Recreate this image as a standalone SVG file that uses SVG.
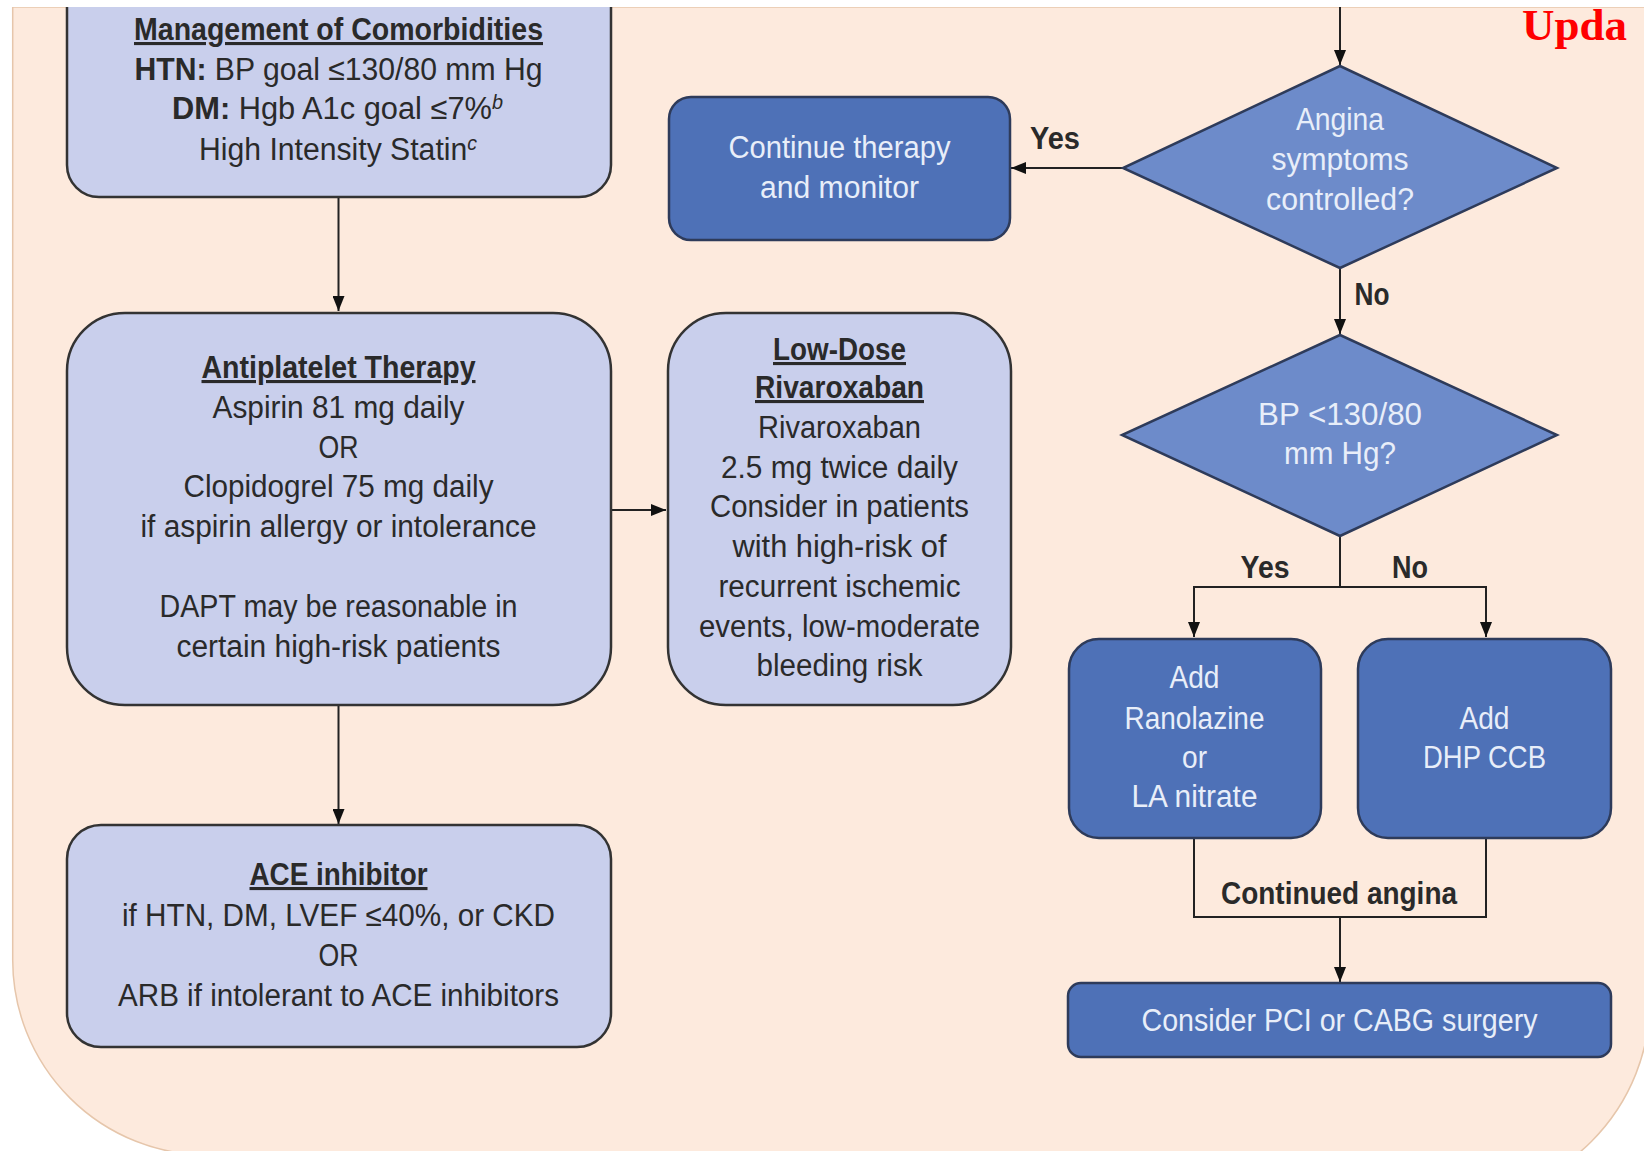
<svg xmlns="http://www.w3.org/2000/svg" width="1644" height="1151" viewBox="0 0 1644 1151">
<style>
.t{font-family:"Liberation Sans",Arial,sans-serif;font-size:31px;fill:#2a2a2a;text-anchor:middle}
.b{font-weight:bold}
.u{text-decoration:underline}
.w{fill:#e8eef9}
.lt{fill:#c9cfec;stroke:#333;stroke-width:2.5}
.dk{fill:#4e71b7;stroke:#2e3b5a;stroke-width:2.5}
.dm{fill:#6d8bca;stroke:#2e3b5a;stroke-width:2.5}
.c{fill:none;stroke:#222;stroke-width:2}
</style>
<defs>
<marker id="ah" markerUnits="userSpaceOnUse" markerWidth="16" markerHeight="12" refX="15" refY="6" orient="auto">
<path d="M0,0 L15,6 L0,12 Z" fill="#111"/>
</marker>
</defs>
<rect width="1644" height="1151" fill="#ffffff"/>
<path id="panel" d="M12.7,7 V960 A195,195 0 0 0 207.7,1155 L1450,1200 A200,200 0 0 0 1650,1000 V7 Z" fill="#fdeadd" stroke="#e6c6ab" stroke-width="1.5"/>

<g id="connectors">
<path class="c" d="M338.5,197 V311" marker-end="url(#ah)"/>
<path class="c" d="M338.5,705 V824" marker-end="url(#ah)"/>
<path class="c" d="M611,510 H666" marker-end="url(#ah)"/>
<path class="c" d="M1340,7 V65" marker-end="url(#ah)"/>
<path class="c" d="M1123,168 H1011" marker-end="url(#ah)"/>
<path class="c" d="M1340,268 V334" marker-end="url(#ah)"/>
<path class="c" d="M1340,536 V587"/>
<path class="c" d="M1340,587 H1194 V637" marker-end="url(#ah)"/>
<path class="c" d="M1340,587 H1486 V637" marker-end="url(#ah)"/>
<path class="c" d="M1194,838 V917 H1486 V838"/>
<path class="c" d="M1340,917 V982" marker-end="url(#ah)"/>
<text class="t b" x="1055" y="149" textLength="50" lengthAdjust="spacingAndGlyphs">Yes</text>
<text class="t b" x="1372" y="305" textLength="35" lengthAdjust="spacingAndGlyphs">No</text>
<text class="t b" x="1265" y="578" textLength="49" lengthAdjust="spacingAndGlyphs">Yes</text>
<text class="t b" x="1410" y="578" textLength="36" lengthAdjust="spacingAndGlyphs">No</text>
<text class="t b" x="1339" y="904" textLength="236" lengthAdjust="spacingAndGlyphs">Continued angina</text>
</g>

<g id="management">
<rect class="lt" x="67" y="-40" width="544" height="237" rx="32"/>
<text class="t b u" x="338.5" y="40" textLength="409" lengthAdjust="spacingAndGlyphs">Management of Comorbidities</text>
<text class="t" x="338.5" y="80" textLength="408" lengthAdjust="spacingAndGlyphs"><tspan class="b">HTN:</tspan> BP goal ≤130/80 mm Hg</text>
<text class="t" x="337.5" y="119" textLength="331" lengthAdjust="spacingAndGlyphs"><tspan class="b">DM:</tspan> Hgb A1c goal ≤7%<tspan dy="-10" font-size="20" font-style="italic">b</tspan></text>
<text class="t" x="338" y="160" textLength="278" lengthAdjust="spacingAndGlyphs">High Intensity Statin<tspan dy="-10" font-size="20" font-style="italic">c</tspan></text>
</g>

<g id="antiplatelet">
<rect class="lt" x="67" y="313" width="544" height="392" rx="58"/>
<text class="t b u" x="338.5" y="378" textLength="274" lengthAdjust="spacingAndGlyphs">Antiplatelet Therapy</text>
<text class="t" x="338.5" y="418" textLength="252" lengthAdjust="spacingAndGlyphs">Aspirin 81 mg daily</text>
<text class="t" x="338.5" y="458" textLength="40" lengthAdjust="spacingAndGlyphs">OR</text>
<text class="t" x="338.5" y="497" textLength="310" lengthAdjust="spacingAndGlyphs">Clopidogrel 75 mg daily</text>
<text class="t" x="338.5" y="537" textLength="396" lengthAdjust="spacingAndGlyphs">if aspirin allergy or intolerance</text>
<text class="t" x="338.5" y="617" textLength="358" lengthAdjust="spacingAndGlyphs">DAPT may be reasonable in</text>
<text class="t" x="338.5" y="657" textLength="324" lengthAdjust="spacingAndGlyphs">certain high-risk patients</text>
</g>

<g id="rivaroxaban">
<rect class="lt" x="668" y="313" width="343" height="392" rx="58"/>
<text class="t b u" x="839.5" y="360" textLength="133" lengthAdjust="spacingAndGlyphs">Low-Dose</text>
<text class="t b u" x="839.5" y="398" textLength="169" lengthAdjust="spacingAndGlyphs">Rivaroxaban</text>
<text class="t" x="839.5" y="438" textLength="163" lengthAdjust="spacingAndGlyphs">Rivaroxaban</text>
<text class="t" x="839.5" y="478" textLength="237" lengthAdjust="spacingAndGlyphs">2.5 mg twice daily</text>
<text class="t" x="839.5" y="517" textLength="259" lengthAdjust="spacingAndGlyphs">Consider in patients</text>
<text class="t" x="839.5" y="557" textLength="214" lengthAdjust="spacingAndGlyphs">with high-risk of</text>
<text class="t" x="839.5" y="597" textLength="242" lengthAdjust="spacingAndGlyphs">recurrent ischemic</text>
<text class="t" x="839.5" y="637" textLength="281" lengthAdjust="spacingAndGlyphs">events, low-moderate</text>
<text class="t" x="839.5" y="676" textLength="166" lengthAdjust="spacingAndGlyphs">bleeding risk</text>
</g>

<g id="ace">
<rect class="lt" x="67" y="825" width="544" height="222" rx="34"/>
<text class="t b u" x="338.5" y="885" textLength="178" lengthAdjust="spacingAndGlyphs">ACE inhibitor</text>
<text class="t" x="338.5" y="926" textLength="433" lengthAdjust="spacingAndGlyphs">if HTN, DM, LVEF ≤40%, or CKD</text>
<text class="t" x="338.5" y="966" textLength="40" lengthAdjust="spacingAndGlyphs">OR</text>
<text class="t" x="338.5" y="1006" textLength="441" lengthAdjust="spacingAndGlyphs">ARB if intolerant to ACE inhibitors</text>
</g>

<g id="continue">
<rect class="dk" x="669" y="97" width="341" height="143" rx="22"/>
<text class="t w" x="839.5" y="158" textLength="222" lengthAdjust="spacingAndGlyphs">Continue therapy</text>
<text class="t w" x="839.5" y="198" textLength="159" lengthAdjust="spacingAndGlyphs">and monitor</text>
</g>

<g id="angina">
<polygon class="dm" points="1340,66 1557,168 1340,268 1123,168"/>
<text class="t w" x="1340" y="130" textLength="88" lengthAdjust="spacingAndGlyphs">Angina</text>
<text class="t w" x="1340" y="170" textLength="137" lengthAdjust="spacingAndGlyphs">symptoms</text>
<text class="t w" x="1340" y="210" textLength="148" lengthAdjust="spacingAndGlyphs">controlled?</text>
</g>

<g id="bp">
<polygon class="dm" points="1340,335 1557,435 1340,536 1122,435"/>
<text class="t w" x="1340" y="425" textLength="164" lengthAdjust="spacingAndGlyphs">BP &lt;130/80</text>
<text class="t w" x="1340" y="464" textLength="112" lengthAdjust="spacingAndGlyphs">mm Hg?</text>
</g>

<g id="ranolazine">
<rect class="dk" x="1069" y="639" width="252" height="199" rx="30"/>
<text class="t w" x="1194.5" y="688" textLength="50" lengthAdjust="spacingAndGlyphs">Add</text>
<text class="t w" x="1194.5" y="729" textLength="140" lengthAdjust="spacingAndGlyphs">Ranolazine</text>
<text class="t w" x="1194.5" y="768" textLength="25" lengthAdjust="spacingAndGlyphs">or</text>
<text class="t w" x="1194.5" y="807" textLength="126" lengthAdjust="spacingAndGlyphs">LA nitrate</text>
</g>

<g id="dhp">
<rect class="dk" x="1358" y="639" width="253" height="199" rx="30"/>
<text class="t w" x="1484.5" y="729" textLength="50" lengthAdjust="spacingAndGlyphs">Add</text>
<text class="t w" x="1484.5" y="768" textLength="123" lengthAdjust="spacingAndGlyphs">DHP CCB</text>
</g>

<g id="pci">
<rect class="dk" x="1068" y="983" width="543" height="74" rx="13"/>
<text class="t w" x="1339.5" y="1031" textLength="396" lengthAdjust="spacingAndGlyphs">Consider PCI or CABG surgery</text>
</g>

<rect x="0" y="0" width="1644" height="7" fill="#ffffff"/>
<text x="1522" y="40" font-family="'Liberation Serif','Times New Roman',serif" font-weight="bold" font-size="45" fill="#ff0000">Upda</text>
</svg>
